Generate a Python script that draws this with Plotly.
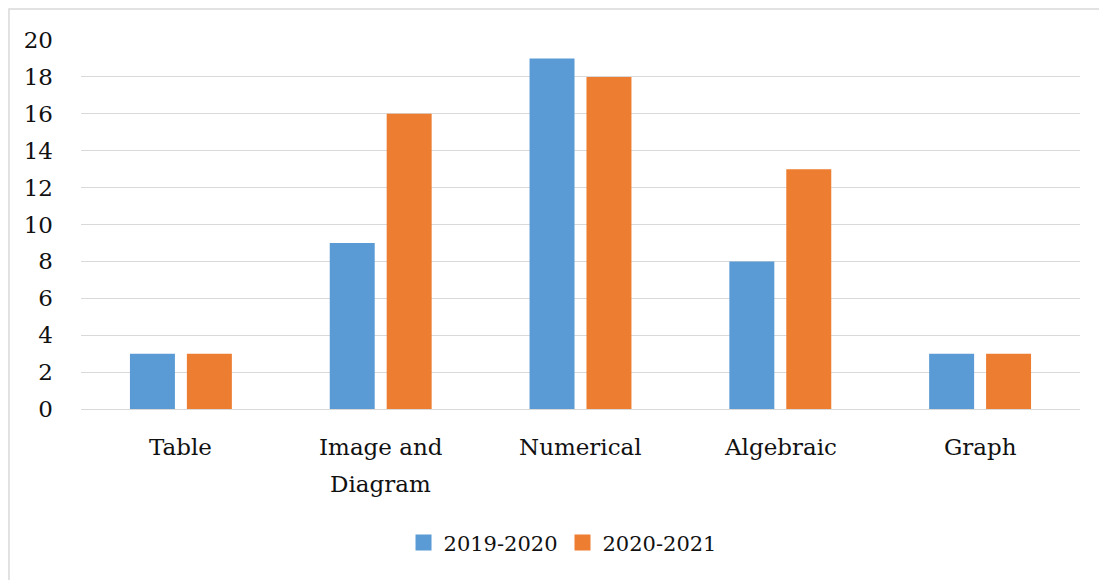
import plotly.graph_objects as go

categories = ["Table", "Image and<br>Diagram", "Numerical", "Algebraic", "Graph"]
series_names = ["2019-2020", "2020-2021"]
values_2019_2020 = [3, 9, 19, 8, 3]
values_2020_2021 = [3, 16, 18, 13, 3]
y_ticks = [0, 2, 4, 6, 8, 10, 12, 14, 16, 18, 20]

colors = ["#5B9BD5", "#ED7D31"]
font_family = "DejaVu Serif"
text_color = "#111111"
grid_color = "#D9D9D9"
font_size = 23

fig = go.Figure()
for name, vals, col in zip(series_names, [values_2019_2020, values_2020_2021], colors):
    fig.add_trace(go.Bar(x=categories, y=vals, name=name, marker_color=col,
                         marker_line_width=0, showlegend=False))
    # legend entry with a larger square swatch
    fig.add_trace(go.Scatter(x=[None], y=[None], mode="markers", name=name,
                             marker=dict(symbol="square", size=16, color=col)))

# category labels, one annotation per text line for wider line spacing
annotations = []
for cat in categories:
    for i, line in enumerate(cat.split("<br>")):
        annotations.append(dict(x=cat, xref="x", y=0, yref="paper", text=line,
                                showarrow=False, xanchor="center", yanchor="middle",
                                yshift=-(38 + 37 * i),
                                font=dict(family=font_family, size=font_size, color=text_color)))

fig.update_layout(
    width=1099, height=580,
    margin=dict(l=81, r=19, t=40, b=171),
    paper_bgcolor="white", plot_bgcolor="white",
    barmode="group", bargap=0.43, bargroupgap=0.21,
    font=dict(family=font_family, size=font_size, color=text_color),
    showlegend=True,
    legend=dict(orientation="h", x=0.482, xanchor="center", y=-0.363, yanchor="middle",
                font=dict(size=21), itemsizing="trace", itemwidth=30),
    annotations=annotations,
    shapes=[dict(type="rect", xref="paper", yref="paper",
                 x0=-0.0721, x1=1.2, y0=-0.7, y1=1.084,
                 line=dict(color=grid_color, width=1.5), fillcolor="rgba(0,0,0,0)")],
)
fig.update_xaxes(showgrid=False, showline=True, linecolor=grid_color, linewidth=1.2,
                 ticks="", showticklabels=False)
fig.update_yaxes(range=[0, 20], tickvals=y_ticks, showgrid=True, gridcolor=grid_color,
                 gridwidth=1.2, zeroline=False, showline=False, ticks="",
                 ticklabelstandoff=27, tickfont=dict(size=font_size))

fig.write_html("out.html")
